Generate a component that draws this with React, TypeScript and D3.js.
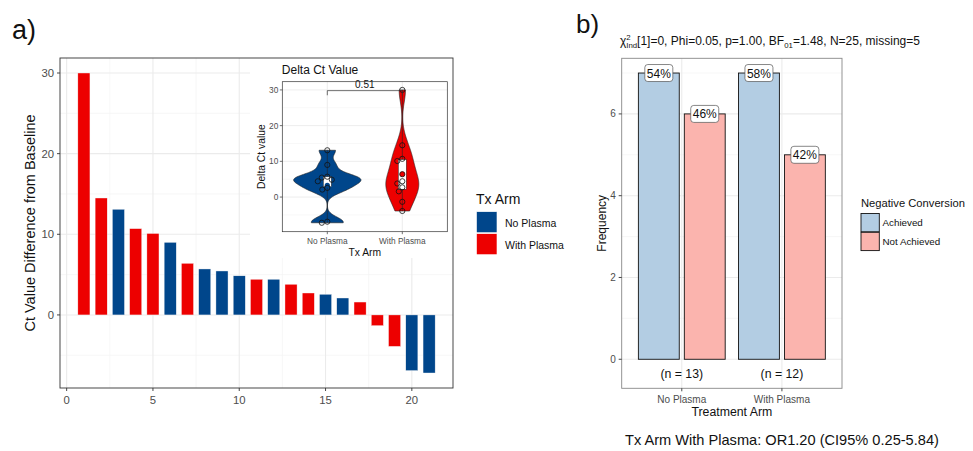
import React from "react";
import * as d3 from "d3";

// ---------- Panel a data ----------
const ctDiff = [30, 14.5, 13.1, 10.7, 10.1, 9.0, 6.4, 5.7, 5.45, 4.85, 4.42, 4.42, 3.8, 2.72, 2.56, 2.1, 1.6, -1.33, -3.9, -6.9, -7.2];
const txArm = [
  "With Plasma", "With Plasma", "No Plasma", "With Plasma", "With Plasma", "No Plasma", "With Plasma",
  "No Plasma", "No Plasma", "No Plasma", "With Plasma", "No Plasma", "With Plasma", "With Plasma",
  "No Plasma", "No Plasma", "With Plasma", "With Plasma", "With Plasma", "No Plasma", "No Plasma",
];
const armNames = ["No Plasma", "With Plasma"];
const armColors = ["#00468B", "#ED0000"];
const xTicksA = [0, 5, 10, 15, 20];
const xMinorA = [2.5, 7.5, 12.5, 17.5];
const yTicksA = [0, 10, 20, 30];
const yMinorA = [-5, 5, 15, 25];

// ---------- Inset data ----------
const insetYTicks = [0, 10, 20, 30];
const insetYMinor = [-5, 5, 15, 25];
const insetBoxLow = [2.9, 2.2];
const insetBoxHigh = [5.7, 10.5];
const insetMeans = [3.3, 6.4];
const insetHalfWidth = [33.7, 16.5];
const pValueLabel = "0.51";
const bracketY = 29.8;
const bracketTickY = 28.5;

// ---------- Panel b data ----------
const groupsB = ["No Plasma", "With Plasma"];
const conversion = ["Achieved", "Not Achieved"];
const achieved = [7, 7];
const notAchieved = [6, 5];
const yTicksB = [0, 2, 4, 6];
const yMinorB = [1, 3, 5, 7];
const convColors = ["#B3CDE3", "#FBB4AE"];

const FONT = "'Liberation Sans', Arial, Helvetica, sans-serif";
const GRID = "#EBEBEB";
const GRID_MINOR = "#F4F4F4";
const AX = "#333333";
const TICKTXT = "#4D4D4D";

function bwNrd0(x: number[]) {
  const s = [...x].sort(d3.ascending);
  const sd = d3.deviation(s) as number;
  const iqr = (d3.quantile(s, 0.75) as number) - (d3.quantile(s, 0.25) as number);
  const lo = Math.min(sd, iqr / 1.34);
  return 0.9 * lo * Math.pow(x.length, -0.2);
}

function kde(x: number[], bw: number) {
  return (y: number) =>
    d3.sum(x, (xi) => Math.exp(-0.5 * ((y - xi) / bw) ** 2)) / (x.length * bw * Math.sqrt(2 * Math.PI));
}

export default function App() {
  // ---- panel a scales ----
  const axL = 60, axR = 453, ayT = 58, ayB = 388;
  const xA = d3.scaleLinear().domain([-0.385, 22.385]).range([axL, axR]);
  const yA = d3.scaleLinear().domain([-9.06, 31.86]).range([ayB, ayT]);
  const barW = 0.7;

  // ---- inset scales ----
  const inL = 282.3, inR = 447.3, inT = 81.7, inB = 231.7;
  const xIn = d3.scalePoint().domain(armNames).range([327.3, 402.3]);
  const yIn = d3.scaleLinear().domain([-9.7, 32.3]).range([inB, inT]);

  const groupVals = armNames.map((a) => ctDiff.filter((_, i) => txArm[i] === a));

  const violins = groupVals.map((vals, gi) => {
    const bw = bwNrd0(vals);
    const f = kde(vals, bw);
    const [mn, mx] = d3.extent(vals) as [number, number];
    const ys = d3.range(0, 121).map((i) => mn + ((mx - mn) * i) / 120);
    const dens = ys.map(f);
    const maxD = d3.max(dens) as number;
    const cx = xIn(armNames[gi]) as number;
    const right = ys.map((y, i) => [cx + (insetHalfWidth[gi] * dens[i]) / maxD, yIn(y)] as [number, number]);
    const left = ys.map((y, i) => [cx - (insetHalfWidth[gi] * dens[i]) / maxD, yIn(y)] as [number, number]).reverse();
    return (d3.line()(right.concat(left)) as string) + "Z";
  });

  // beeswarm positions
  const r = 2.6;
  const swarm = groupVals.map((vals, gi) => {
    const cx = xIn(armNames[gi]) as number;
    const placed: { x: number; y: number }[] = [];
    const sorted = [...vals].sort((a, b) => b - a);
    const cands = d3.range(0, 61).map((k) => (k % 2 === 0 ? 1 : -1) * Math.ceil(k / 2) * 0.5);
    sorted.forEach((v) => {
      const y = yIn(v);
      for (const off of cands) {
        const x = cx + off;
        if (placed.every((p) => Math.hypot(p.x - x, p.y - y) >= 2 * r)) {
          placed.push({ x, y });
          break;
        }
      }
    });
    return placed;
  });

  // ---- panel b scales ----
  const bxL = 621.7, bxR = 842, byT = 58.3, byB = 388.3;
  const xB = d3.scaleLinear().domain([-0.6, 1.6]).range([bxL, bxR]);
  const inner = d3.scaleBand().domain(conversion).range([-0.4335, 0.4335]).paddingInner(0.11);
  const yB = d3.scaleLinear().domain([-0.71, 7.36]).range([byB, byT]);
  const counts = [achieved, notAchieved];

  return (
    <svg width={973} height={451}
      style={{ display: "block", position: "absolute", left: 0, top: 0, fontFamily: FONT }}>
      <rect x={0} y={0} width={973} height={451} fill="#fff" />
      {/* ================= Panel a ================= */}
      <text x={12} y={39} fontSize={27} fill="#111">a)</text>
      {/* grid */}
      {yMinorA.map((t) => (
        <line key={"ym" + t} x1={axL} x2={axR} y1={yA(t)} y2={yA(t)} stroke={GRID_MINOR} strokeWidth={0.7} />
      ))}
      {xMinorA.map((t) => (
        <line key={"xm" + t} y1={ayT} y2={ayB} x1={xA(t)} x2={xA(t)} stroke={GRID_MINOR} strokeWidth={0.7} />
      ))}
      {yTicksA.map((t) => (
        <line key={"yg" + t} x1={axL} x2={axR} y1={yA(t)} y2={yA(t)} stroke={GRID} strokeWidth={1.1} />
      ))}
      {xTicksA.map((t) => (
        <line key={"xg" + t} y1={ayT} y2={ayB} x1={xA(t)} x2={xA(t)} stroke={GRID} strokeWidth={1.1} />
      ))}
      {/* bars */}
      {ctDiff.map((v, i) => {
        const idx = i + 1;
        const x0 = xA(idx - barW / 2);
        const x1 = xA(idx + barW / 2);
        const y0 = yA(Math.max(0, v));
        const y1 = yA(Math.min(0, v));
        return (
          <rect key={"b" + i} x={x0} y={y0} width={x1 - x0} height={y1 - y0}
            fill={armColors[armNames.indexOf(txArm[i])]} stroke="#f4f4f4" strokeWidth={0.4} />
        );
      })}
      {/* inset background */}
      <rect x={250} y={ayT} width={axR - 250} height={258 - ayT} fill="#fff" />
      {/* panel border */}
      <rect x={axL} y={ayT} width={axR - axL} height={ayB - ayT} fill="none" stroke={AX} strokeWidth={0.9} />
      {/* axes ticks */}
      {yTicksA.map((t) => (
        <g key={"yt" + t}>
          <line x1={axL - 3} x2={axL} y1={yA(t)} y2={yA(t)} stroke={AX} strokeWidth={0.9} />
          <text x={axL - 6} y={yA(t)} fontSize={11.3} fill={TICKTXT} textAnchor="end" dominantBaseline="central">{t}</text>
        </g>
      ))}
      {xTicksA.map((t) => (
        <g key={"xt" + t}>
          <line y1={ayB} y2={ayB + 3} x1={xA(t)} x2={xA(t)} stroke={AX} strokeWidth={0.9} />
          <text x={xA(t)} y={ayB + 12} fontSize={11.3} fill={TICKTXT} textAnchor="middle" dominantBaseline="central">{t}</text>
        </g>
      ))}
      <text transform={`translate(30,${(ayT + ayB) / 2}) rotate(-90)`} fontSize={14.5} fill="#111"
        textAnchor="middle" dominantBaseline="central">Ct Value Difference from Baseline</text>

      {/* ---------- inset ---------- */}
      <text x={inL - 0.5} y={74} fontSize={12} fill="#111">Delta Ct Value</text>
      {insetYMinor.map((t) => (
        <line key={"iym" + t} x1={inL} x2={inR} y1={yIn(t)} y2={yIn(t)} stroke={GRID_MINOR} strokeWidth={0.6} />
      ))}
      {insetYTicks.map((t) => (
        <line key={"iyg" + t} x1={inL} x2={inR} y1={yIn(t)} y2={yIn(t)} stroke={GRID} strokeWidth={0.9} />
      ))}
      {armNames.map((a) => (
        <line key={"ixg" + a} x1={xIn(a)} x2={xIn(a)} y1={inT} y2={inB} stroke={GRID} strokeWidth={0.9} />
      ))}
      {violins.map((p, gi) => (
        <path key={"v" + gi} d={p} fill={armColors[gi]} stroke="#222" strokeWidth={0.6} />
      ))}
      {groupVals.map((vals, gi) => {
        const cx = xIn(armNames[gi]) as number;
        const [mn, mx] = d3.extent(vals) as [number, number];
        return (
          <g key={"bx" + gi}>
            <line x1={cx} x2={cx} y1={yIn(mn)} y2={yIn(mx)} stroke="#222" strokeWidth={0.6} />
            <rect x={cx - 4} y={yIn(insetBoxHigh[gi])} width={8}
              height={yIn(insetBoxLow[gi]) - yIn(insetBoxHigh[gi])} fill="#fff" stroke="#222" strokeWidth={0.5} />
            <circle cx={cx} cy={yIn(insetMeans[gi])} r={2.6} fill={armColors[gi]} />
          </g>
        );
      })}
      {swarm.map((pts, gi) =>
        pts.map((p, j) => (
          <circle key={`pt${gi}-${j}`} cx={p.x} cy={p.y} r={r} fill="none" stroke="#111" strokeWidth={0.8} />
        ))
      )}
      {/* bracket */}
      <path
        d={`M${xIn("No Plasma")},${yIn(bracketTickY)}V${yIn(bracketY)}H${xIn("With Plasma")}V${yIn(bracketTickY)}`}
        fill="none" stroke="#333" strokeWidth={0.7} />
      <text x={((xIn("No Plasma") as number) + (xIn("With Plasma") as number)) / 2} y={yIn(bracketY) - 2.5}
        fontSize={10} fill="#111" textAnchor="middle">{pValueLabel}</text>
      <rect x={inL} y={inT} width={inR - inL} height={inB - inT} fill="none" stroke={AX} strokeWidth={0.7} />
      {insetYTicks.map((t) => (
        <g key={"iyt" + t}>
          <line x1={inL - 2.5} x2={inL} y1={yIn(t)} y2={yIn(t)} stroke={AX} strokeWidth={0.7} />
          <text x={inL - 4} y={yIn(t)} fontSize={8.3} fill={TICKTXT} textAnchor="end" dominantBaseline="central">{t}</text>
        </g>
      ))}
      {armNames.map((a) => (
        <g key={"ixt" + a}>
          <line x1={xIn(a)} x2={xIn(a)} y1={inB} y2={inB + 2.5} stroke={AX} strokeWidth={0.7} />
          <text x={xIn(a)} y={inB + 9.5} fontSize={8.3} fill={TICKTXT} textAnchor="middle" dominantBaseline="central">{a}</text>
        </g>
      ))}
      <text x={(inL + inR) / 2} y={inB + 20.5} fontSize={10.3} fill="#111" textAnchor="middle" dominantBaseline="central">Tx Arm</text>
      <text transform={`translate(261,${(inT + inB) / 2}) rotate(-90)`} fontSize={10.3} fill="#111"
        textAnchor="middle" dominantBaseline="central">Delta Ct value</text>

      {/* legend a */}
      <text x={476} y={198.5} fontSize={14} fill="#111" dominantBaseline="central">Tx Arm</text>
      {armNames.map((a, i) => (
        <g key={"la" + a}>
          <rect x={476.5} y={211.7 + i * 22} width={20.5} height={21} fill={armColors[i]} stroke="#fff" strokeWidth={0.6} />
          <text x={505} y={222.5 + i * 22} fontSize={10.5} fill="#111" dominantBaseline="central">{a}</text>
        </g>
      ))}

      {/* ================= Panel b ================= */}
      <text x={576} y={32.5} fontSize={26} fill="#111">b)</text>
      <text x={620} y={45} fontSize={12} fill="#111">
        χ
        <tspan fontSize={7.8} dy={-5}>2</tspan>
        <tspan fontSize={7.8} dx={-4.4} dy={8}>Ind</tspan>
        <tspan dy={-3}>[1]=0, Phi=0.05, p=1.00, BF</tspan>
        <tspan fontSize={7.8} dy={3}>01</tspan>
        <tspan dy={-3}>=1.48, N=25, missing=5</tspan>
      </text>
      {yMinorB.map((t) => (
        <line key={"bym" + t} x1={bxL} x2={bxR} y1={yB(t)} y2={yB(t)} stroke={GRID_MINOR} strokeWidth={0.7} />
      ))}
      {yTicksB.map((t) => (
        <line key={"byg" + t} x1={bxL} x2={bxR} y1={yB(t)} y2={yB(t)} stroke={GRID} strokeWidth={1.1} />
      ))}
      {groupsB.map((g, gi) => (
        <line key={"bxg" + g} x1={xB(gi)} x2={xB(gi)} y1={byT} y2={byB} stroke={GRID} strokeWidth={1.1} />
      ))}
      {groupsB.map((g, gi) =>
        conversion.map((c, ci) => {
          const v = counts[ci][gi];
          const x0 = xB(gi + (inner(c) as number));
          const x1 = xB(gi + (inner(c) as number) + inner.bandwidth());
          return (
            <rect key={`bb${gi}${ci}`} x={x0} y={yB(v)} width={x1 - x0} height={yB(0) - yB(v)}
              fill={convColors[ci]} stroke="#111" strokeWidth={0.9} />
          );
        })
      )}
      {groupsB.map((g, gi) =>
        conversion.map((c, ci) => {
          const v = counts[ci][gi];
          const n = achieved[gi] + notAchieved[gi];
          const cx = xB(gi + (inner(c) as number) + inner.bandwidth() / 2);
          return (
            <g key={`bl${gi}${ci}`}>
              <rect x={cx - 14} y={yB(v) - 8.5} width={28} height={17} rx={3} fill="#fff" stroke="#555" strokeWidth={0.7} />
              <text x={cx} y={yB(v) + 0.5} fontSize={12} fill="#111" textAnchor="middle" dominantBaseline="central">
                {Math.round((100 * v) / n)}%
              </text>
            </g>
          );
        })
      )}
      {groupsB.map((g, gi) => (
        <text key={"n" + g} x={xB(gi)} y={374} fontSize={12.3} fill="#111" textAnchor="middle" dominantBaseline="central">
          {`(n = ${achieved[gi] + notAchieved[gi]})`}
        </text>
      ))}
      <rect x={bxL} y={byT} width={bxR - bxL} height={byB - byT} fill="none" stroke="#888" strokeWidth={0.9} />
      {yTicksB.map((t) => (
        <g key={"byt" + t}>
          <line x1={bxL - 3} x2={bxL} y1={yB(t)} y2={yB(t)} stroke={AX} strokeWidth={0.9} />
          <text x={bxL - 6} y={yB(t)} fontSize={10} fill={TICKTXT} textAnchor="end" dominantBaseline="central">{t}</text>
        </g>
      ))}
      {groupsB.map((g, gi) => (
        <g key={"bxt" + g}>
          <line x1={xB(gi)} x2={xB(gi)} y1={byB} y2={byB + 3} stroke={AX} strokeWidth={0.9} />
          <text x={xB(gi)} y={399} fontSize={10} fill={TICKTXT} textAnchor="middle" dominantBaseline="central">{g}</text>
        </g>
      ))}
      <text x={(bxL + bxR) / 2} y={411.5} fontSize={12.3} fill="#111" textAnchor="middle" dominantBaseline="central">Treatment Arm</text>
      <text transform={`translate(602,${(byT + byB) / 2}) rotate(-90)`} fontSize={12} fill="#111"
        textAnchor="middle" dominantBaseline="central">Frequency</text>

      {/* legend b */}
      <text x={861} y={202.5} fontSize={11.2} fill="#111" dominantBaseline="central">Negative Conversion</text>
      {conversion.map((c, i) => (
        <g key={"lb" + c}>
          <rect x={861} y={213.5 + i * 18.8} width={18.3} height={18.3} fill={convColors[i]} stroke="#111" strokeWidth={0.9} />
          <text x={882.5} y={222.5 + i * 18.8} fontSize={9.8} fill="#111" dominantBaseline="central">{c}</text>
        </g>
      ))}

      <text x={625} y={440} fontSize={14.6} fill="#111" dominantBaseline="central">
        Tx Arm With Plasma: OR1.20 (CI95% 0.25-5.84)
      </text>
    </svg>
  );
}
